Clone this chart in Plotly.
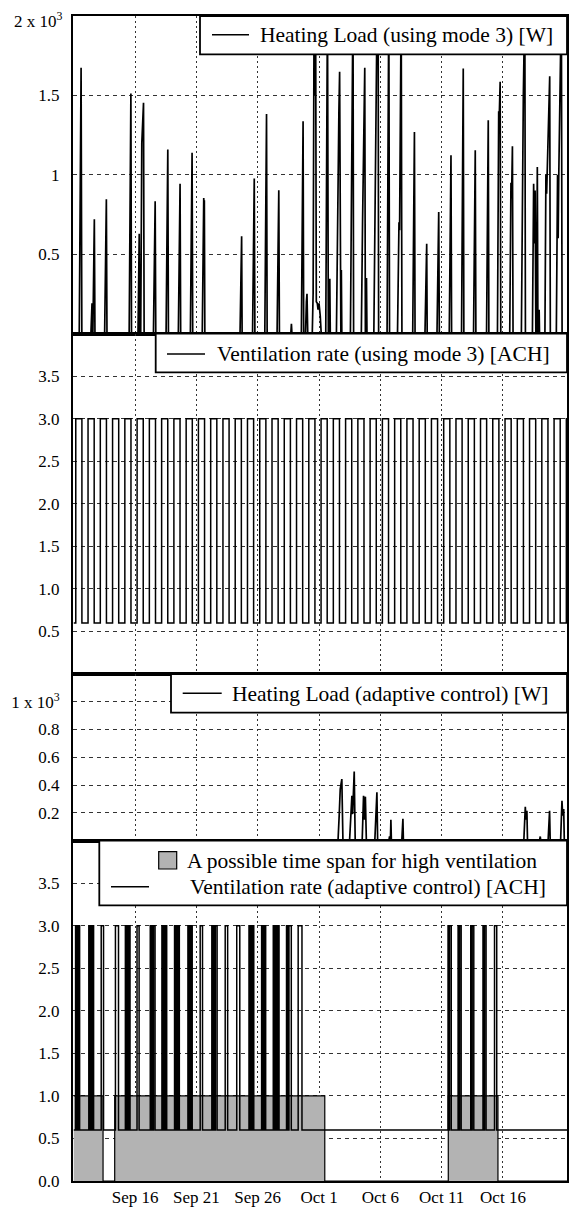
import plotly.graph_objects as go
from datetime import datetime, timedelta

START = datetime(2013, 9, 11)

# ---------------- data (day offsets from Sep 11 00:00) ----------------
# Panel 1: Heating load using mode 3 [W]
hl3_day = [0.00, 0.45, 0.60, 0.66,
           1.40, 1.49, 1.52, 1.56, 1.68, 1.73,
           2.52, 2.66, 2.71,
           4.52, 4.66, 4.71,
           5.24, 5.34, 5.38, 5.46, 5.55, 5.62, 5.69, 5.74,
           6.50, 6.64, 6.69,
           7.53, 7.67, 7.72,
           8.53, 8.67, 8.72,
           9.51, 9.65, 9.70,
           10.48, 10.60, 10.63, 10.65, 10.69,
           13.56, 13.69, 13.73,
           14.58, 14.72, 14.77,
           15.58, 15.72, 15.77,
           16.58, 16.72, 16.77,
           17.70, 17.75, 17.79,
           18.56, 18.70, 18.75,
           18.90, 18.97, 19.02, 19.08,
           19.45, 19.52, 19.60, 19.66, 19.72, 19.78, 19.86, 19.92, 20.00, 20.10, 20.18,
           20.55, 20.69, 20.76, 20.82, 20.88, 20.92,
           21.42, 21.55, 21.62, 21.68, 21.74, 21.78, 21.82, 21.86,
           22.56, 22.70, 22.73, 22.77, 22.82,
           23.45, 23.55, 23.60, 23.66, 23.73, 23.78, 23.82, 23.87, 23.91,
           24.47, 24.60, 24.66, 24.74, 24.78, 24.82, 24.86,
           25.55, 25.69, 25.75,
           26.40, 26.52, 26.57, 26.70, 26.76,
           27.64, 27.78, 27.83,
           28.64, 28.78, 28.82,
           29.62, 29.76, 29.81,
           30.62, 30.76, 30.81,
           31.62, 31.76, 31.81,
           32.60, 32.74, 32.79,
           33.66, 33.80, 33.85,
           34.55, 34.65, 34.70, 34.77, 34.82,
           35.55, 35.65, 35.70, 35.77, 35.82,
           36.50, 36.62, 36.66, 36.78, 36.83,
           37.40, 37.50, 37.55, 37.62, 37.68, 37.72, 37.80, 37.85, 37.92, 37.95, 37.98,
           38.42, 38.50, 38.56, 38.81, 38.86,
           39.35, 39.45, 39.50, 39.55, 39.76, 39.82,
           40.30]
hl3_w = [0, 0, 1674, 0,
         0, 190, 0, 0, 719, 0,
         0, 845, 0,
         0, 1512, 0,
         0, 629, 0, 0, 1200, 1400, 1453, 0,
         0, 833, 0,
         0, 1159, 0,
         0, 944, 0,
         0, 1138, 0,
         0, 854, 780, 839, 0,
         0, 612, 0,
         0, 976, 0,
         0, 1382, 0,
         0, 902, 0,
         0, 61, 0,
         0, 1337, 0,
         0, 200, 250, 0,
         0, 250, 2100, 1500, 2100, 200, 190, 150, 190, 110, 0,
         0, 2100, 0, 0, 345, 0,
         0, 1281, 1400, 1649, 0, 0, 400, 0,
         0, 1680, 1500, 2100, 0,
         0, 700, 930, 1100, 1674, 0, 0, 350, 0,
         0, 1000, 1050, 2100, 1800, 2100, 0,
         0, 2100, 0,
         0, 700, 650, 2100, 0,
         0, 1270, 0,
         0, 566, 0,
         0, 765, 0,
         0, 1123, 0,
         0, 1670, 0,
         0, 1155, 0,
         0, 1344, 0,
         0, 1400, 1380, 1586, 0,
         0, 950, 850, 1180, 0,
         0, 1400, 1500, 2100, 0,
         0, 944, 567, 900, 0, 0, 1049, 0, 0, 150, 0,
         0, 1000, 880, 1621, 0,
         0, 1000, 600, 1000, 2100, 0,
         0]

# Panel 2: ventilation rate using mode 3 [ACH] (daily schedule)
VENT3_DAYS = 41
VENT3_ON_HOUR = 4.0
VENT3_OFF_HOUR = 16.0
VENT_LOW = 0.6
VENT_HIGH = 3.0

# Panel 3: Heating load with adaptive control [W]
hla_day = [0.00, 21.55, 21.65, 21.73, 21.86, 21.95,
           22.49, 22.60, 22.68, 22.74, 22.87, 22.95,
           23.52, 23.63, 23.70, 23.78, 23.86,
           24.55, 24.72, 24.78,
           25.70, 25.75, 25.80, 25.82, 25.86, 25.90,
           26.75, 26.84, 26.88,
           36.70, 36.82, 36.88, 36.95, 37.00,
           37.98, 38.04, 38.08,
           38.68, 38.80, 38.85,
           39.70, 39.81, 39.87, 39.95, 40.00,
           40.30]
hla_w = [0, 0, 190, 371, 443, 0,
         0, 150, 323, 190, 497, 0,
         0, 323, 150, 316, 0,
         0, 347, 0,
         0, 30, 0, 0, 149, 0,
         0, 156, 0,
         0, 243, 150, 214, 0,
         0, 29, 0,
         0, 214, 0,
         0, 286, 180, 226, 0,
         0]

# Panel 4: adaptive ventilation pulses (on / off, day offsets)
adapt_on = [0.15, 0.28, 0.40,
            1.23, 1.37, 1.51,
            2.24,
            3.40,
            4.21, 4.34, 4.49,
            5.16,
            6.24, 6.37, 6.50,
            7.19, 7.33, 7.49,
            8.22, 8.36, 8.51,
            9.31, 9.45, 9.60,
            10.31,
            11.26, 11.40, 11.55,
            12.35,
            13.29,
            14.29, 14.42, 14.56,
            15.32, 15.46, 15.58,
            16.27, 16.40, 16.54, 16.67,
            17.35, 17.55,
            18.30,
            30.52, 30.64,
            31.34, 31.46,
            32.37, 32.49,
            33.37, 33.49,
            34.31]
adapt_off = [0.24, 0.36, 0.48,
             1.33, 1.47, 1.62,
             2.43,
             3.65,
             4.30, 4.45, 4.59,
             5.33,
             6.33, 6.46, 6.63,
             7.29, 7.45, 7.58,
             8.32, 8.47, 8.61,
             9.41, 9.56, 9.66,
             10.50,
             11.36, 11.48, 11.69,
             12.55,
             13.54,
             14.38, 14.52, 14.68,
             15.42, 15.55, 15.65,
             16.36, 16.50, 16.63, 16.74,
             17.45, 17.74,
             18.61,
             30.60, 30.78,
             31.42, 31.59,
             32.45, 32.62,
             33.45, 33.62,
             34.49]

# possible time span for high ventilation
poss_start = [0.00, 3.34, 30.54]
poss_end = [2.39, 20.47, 34.59]

tick_days = [5, 10, 15, 20, 25, 30, 35]
tick_labels = ["Sep 16", "Sep 21", "Sep 26", "Oct 1", "Oct 6", "Oct 11", "Oct 16"]
END_DAY = 40.30


def T(d):
    return START + timedelta(days=d)


# ---------------- build series ----------------
v3_x, v3_y = [T(0)], [VENT_LOW]
for d in range(VENT3_DAYS):
    v3_x += [T(d + VENT3_ON_HOUR / 24), T(d + VENT3_OFF_HOUR / 24)]
    v3_y += [VENT_HIGH, VENT_LOW]
v3_x.append(T(END_DAY)); v3_y.append(VENT_LOW)

va_x, va_y = [T(0)], [VENT_LOW]
for a, b in zip(adapt_on, adapt_off):
    va_x += [T(a), T(b)]
    va_y += [VENT_HIGH, VENT_LOW]
va_x.append(T(END_DAY)); va_y.append(VENT_LOW)

ps_x, ps_y = [], []
for a, b in zip(poss_start, poss_end):
    ps_x += [T(a), T(b)]
    ps_y += [1, 0]
ps_x.append(T(END_DAY)); ps_y.append(0)

LW = 1.5
fig = go.Figure()
fig.add_trace(go.Scatter(x=[T(d) for d in hl3_day], y=hl3_w, mode="lines",
                         line=dict(color="black", width=1.7), xaxis="x", yaxis="y"))
fig.add_trace(go.Scatter(x=v3_x, y=v3_y, mode="lines", line_shape="hv",
                         line=dict(color="black", width=LW), xaxis="x2", yaxis="y2"))
fig.add_trace(go.Scatter(x=[T(d) for d in hla_day], y=hla_w, mode="lines",
                         line=dict(color="black", width=1.7), xaxis="x3", yaxis="y3"))
fig.add_trace(go.Scatter(x=ps_x, y=ps_y, mode="lines", line_shape="hv", fill="tozeroy",
                         fillcolor="#b3b3b3", line=dict(color="black", width=1.2),
                         xaxis="x4", yaxis="y4"))
fig.add_trace(go.Scatter(x=va_x, y=va_y, mode="lines", line_shape="hv",
                         line=dict(color="black", width=LW), xaxis="x4", yaxis="y4"))

# ---------------- layout ----------------
W, H = 569, 1207
ML, MR, MT, MB = 73, 2, 16, 26
PW = W - ML - MR
PH = H - MT - MB


def px_x(p):
    return (p - ML) / PW


def px_y(p):
    return (H - MB - p) / PH


FONT = "Liberation Serif"
tickfont = dict(family=FONT, size=17, color="black")

b12, b23, b34 = px_y(333.5), px_y(674), px_y(840.5)
domains = {"y": [b12, 1], "y2": [b23, b12], "y3": [b34, b23], "y4": [0, b34]}

xbase = dict(type="date", range=[T(-0.06), T(40.22)], automargin=False,
             tickvals=[T(d) for d in tick_days], ticktext=tick_labels,
             showgrid=True, gridcolor="#333", gridwidth=1, griddash="2px,3px",
             showline=True, mirror=True, linecolor="black", linewidth=2,
             ticks="", zeroline=False, tickfont=tickfont, showticklabels=False)

ybase = dict(showgrid=True, gridcolor="#333", gridwidth=1, griddash="4px,4px",
             showline=True, mirror=True, linecolor="black", linewidth=2, automargin=False,
             ticks="", zeroline=False, tickfont=tickfont, ticklabelstandoff=8)

layout = dict(width=W, height=H, margin=dict(l=ML, r=MR, t=MT, b=MB, autoexpand=False),
              paper_bgcolor="white", plot_bgcolor="white", showlegend=False,
              font=dict(family=FONT, color="black"))

for i, (yn, dom) in enumerate(domains.items(), start=1):
    xn = "xaxis" if i == 1 else f"xaxis{i}"
    xa = dict(xbase, anchor=yn)
    if i > 1:
        xa["matches"] = "x"
    if i == 4:
        xa["showticklabels"] = True
        xa["ticklabelstandoff"] = 0
    layout[xn] = xa

layout["yaxis"] = dict(ybase, domain=domains["y"], anchor="x", range=[0, 2000],
                       tickvals=[500, 1000, 1500], ticktext=["0.5", "1", "1.5"])
layout["yaxis2"] = dict(ybase, domain=domains["y2"], anchor="x2", range=[0, 4],
                        tickvals=[0.5, 1, 1.5, 2, 2.5, 3, 3.5],
                        ticktext=["0.5", "1.0", "1.5", "2.0", "2.5", "3.0", "3.5"])
layout["yaxis3"] = dict(ybase, domain=domains["y3"], anchor="x3", range=[0, 1200],
                        tickvals=[200, 400, 600, 800, 1000],
                        ticktext=["0.2", "0.4", "0.6", "0.8", "1 x 10<sup>3</sup>"])
layout["yaxis4"] = dict(ybase, domain=domains["y4"], anchor="x4", range=[0, 4],
                        tickvals=[0, 0.5, 1, 1.5, 2, 2.5, 3, 3.5],
                        ticktext=["0.0", "0.5", "1.0", "1.5", "2.0", "2.5", "3.0", "3.5"])

fig.update_layout(**layout)

# ---------------- hand-drawn legends ----------------
LEG_FS = 21.5
shapes = []
annots = []

# top scale label of panel 1 (offset text)
annots.append(dict(xref="paper", yref="paper", x=px_x(65), y=px_y(20), text="2 x 10<sup>3</sup>",
                   xanchor="right", yanchor="middle", showarrow=False,
                   font=dict(family=FONT, size=17, color="black")))


def legend_box(x0, y0, y1):
    shapes.append(dict(type="rect", xref="paper", yref="paper", x0=px_x(x0), x1=1.0,
                       y0=px_y(y1), y1=px_y(y0), fillcolor="white",
                       line=dict(color="black", width=1.8), layer="above"))


def legend_line(x0, x1, y):
    shapes.append(dict(type="line", xref="paper", yref="paper", x0=px_x(x0), x1=px_x(x1),
                       y0=px_y(y), y1=px_y(y), line=dict(color="black", width=1.4),
                       layer="above"))


def legend_text(x, y, txt):
    annots.append(dict(xref="paper", yref="paper", x=px_x(x), y=px_y(y), text=txt,
                       xanchor="left", yanchor="middle", showarrow=False,
                       font=dict(family=FONT, size=LEG_FS, color="black")))


legend_box(200, 16, 54.3)
legend_line(212, 249, 34.7)
legend_text(258, 35, "Heating Load (using mode 3) [W]")

legend_box(155.7, 333.5, 372.3)
legend_line(167, 205, 354)
legend_text(215, 354, "Ventilation rate (using mode 3) [ACH]")

legend_box(171, 674, 712.7)
legend_line(182.7, 221.7, 693.3)
legend_text(230, 693.5, "Heating Load (adaptive control) [W]")

legend_box(99.3, 840.5, 905.3)
shapes.append(dict(type="rect", xref="paper", yref="paper", x0=px_x(158.7), x1=px_x(176.7),
                   y0=px_y(869), y1=px_y(851.7), fillcolor="#b3b3b3",
                   line=dict(color="black", width=1.2), layer="above"))
legend_text(185, 861, "A possible time span for high ventilation")
legend_line(111, 149, 886.7)
legend_text(187.5, 887, "Ventilation rate (adaptive control) [ACH]")

fig.update_layout(shapes=shapes, annotations=annots)

fig.write_html("out.html", config={"displayModeBar": False},
               post_script="document.body.style.margin='0px';document.body.style.padding='0px';")
